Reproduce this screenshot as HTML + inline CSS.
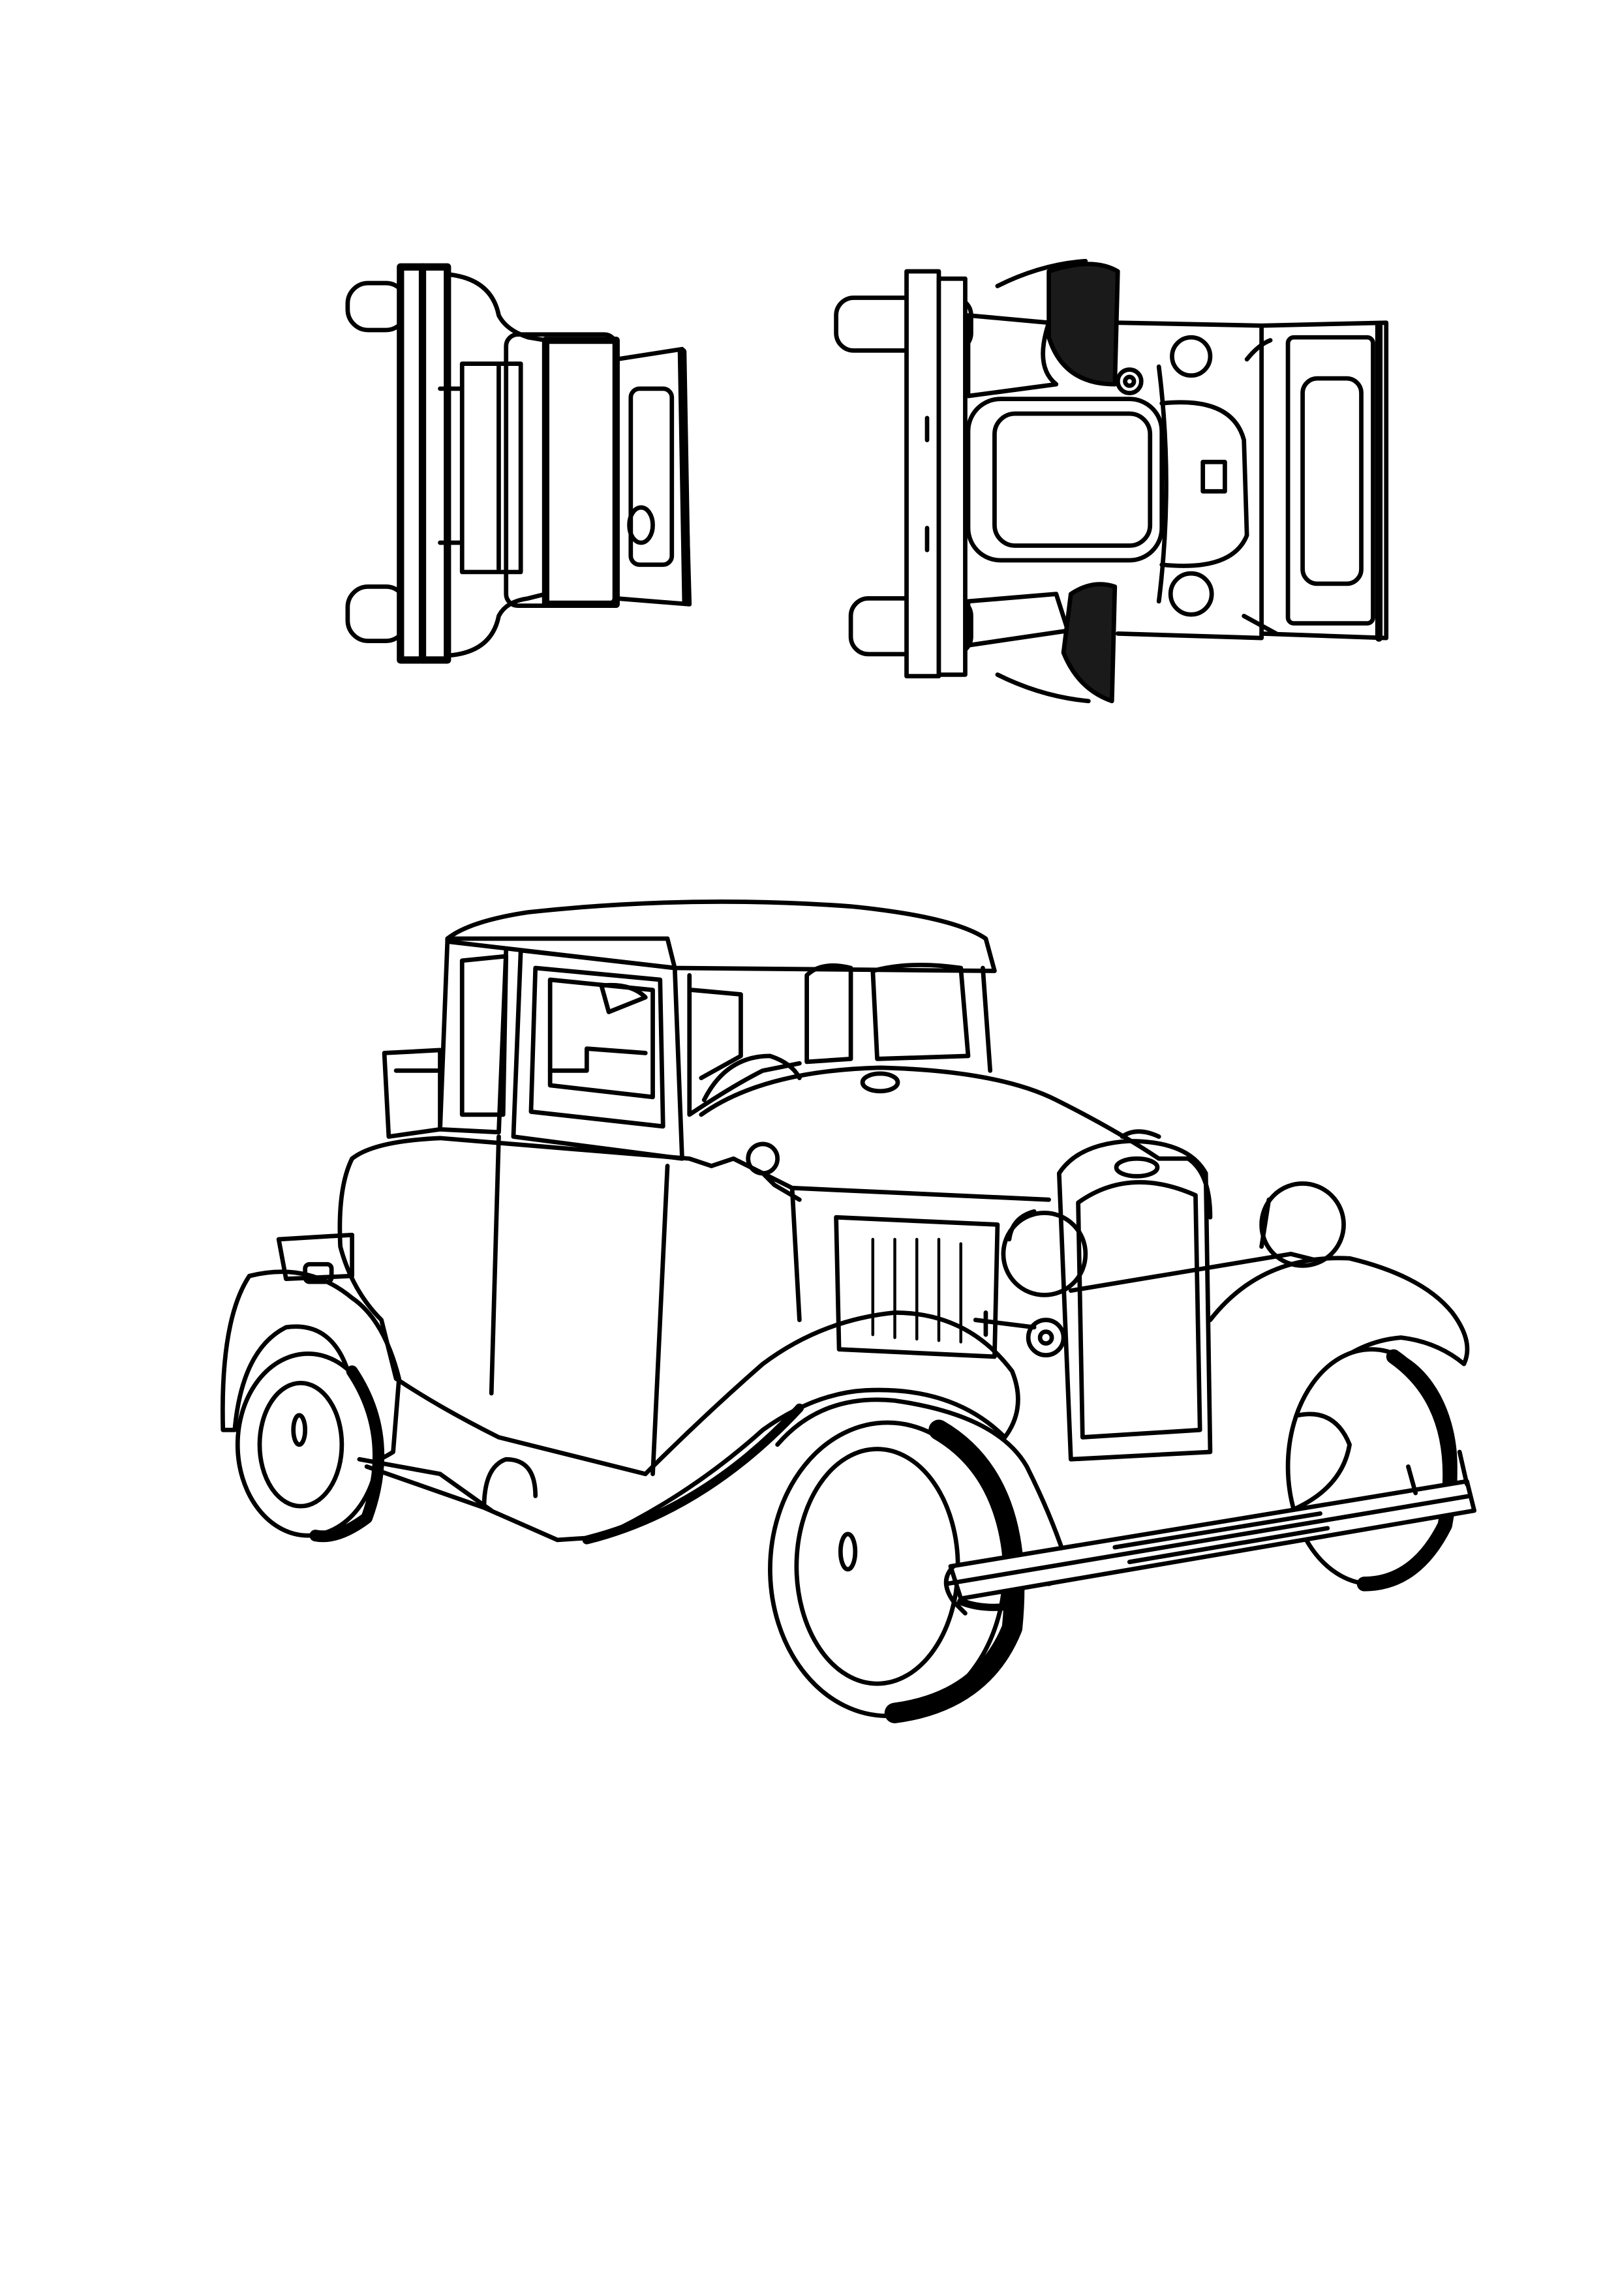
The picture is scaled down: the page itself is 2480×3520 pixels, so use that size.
<!DOCTYPE html>
<html><head><meta charset="utf-8"><style>
html,body{margin:0;padding:0;background:#fff;}
svg{display:block;}
</style></head><body>
<svg width="2480" height="3520" viewBox="0 0 1103 1565.5" xmlns="http://www.w3.org/2000/svg" fill="none" stroke="#000" stroke-width="3" stroke-linejoin="round" stroke-linecap="round">
<rect width="1103" height="1565.5" fill="#fff" stroke="none"/>
<!-- ===== Top-left view ===== -->
<rect x="237" y="193" width="40" height="32" rx="14"/>
<rect x="237" y="400" width="40" height="37" rx="14"/>
<rect x="273" y="182" width="32" height="268" fill="#fff" stroke-width="5"/>
<line x1="288" y1="182" x2="288" y2="450" stroke-width="5"/>
<path d="M305 187 Q335 190 340 215 Q345 225 360 230 L372 232"/>
<path d="M305 447 Q335 445 340 420 Q345 410 360 408 L372 405"/>
<rect x="345" y="228" width="75" height="185" rx="8"/>
<rect x="372" y="232" width="48" height="180" stroke-width="5"/>
<rect x="315" y="248" width="40" height="142"/>
<line x1="340" y1="250" x2="340" y2="388"/>
<path d="M300 265 L315 265 M300 370 L315 370"/>
<path d="M420 245 L465 238 L470 412 L420 408 Z"/>
<rect x="430" y="265" width="28" height="120" rx="6"/>
<line x1="465" y1="240" x2="468" y2="410" stroke-width="6"/>
<ellipse cx="437" cy="358" rx="8" ry="12"/>
<!-- ===== Top-right view ===== -->
<rect x="570" y="203" width="92" height="36" rx="12"/>
<rect x="580" y="408" width="82" height="38" rx="12"/>
<rect x="618" y="185" width="22" height="276" fill="#fff"/>
<rect x="640" y="190" width="18" height="270" fill="#fff"/>
<line x1="632" y1="285" x2="632" y2="300"/><line x1="632" y1="360" x2="632" y2="375"/>
<path d="M660 215 L715 220 Q705 250 720 262 L660 270 Z"/>
<path d="M660 410 L720 405 L728 430 L660 440 Z"/>
<path d="M715 185 Q745 175 762 185 L760 262 Q725 262 715 230 Z" fill="#1a1a1a"/>
<path d="M730 405 Q745 395 760 400 L758 478 Q735 470 725 445 Z" fill="#1a1a1a"/>
<path d="M680 195 Q710 180 740 178" />
<path d="M680 460 Q710 475 742 478"/>
<rect x="660" y="272" width="132" height="110" rx="22"/>
<rect x="678" y="282" width="106" height="90" rx="14"/>
<path d="M792 275 Q840 270 848 300 L850 365 Q840 390 792 385"/>
<path d="M820 315 L835 315 L835 335 L820 335 Z"/>
<circle cx="770" cy="260" r="8"/><circle cx="770" cy="260" r="3"/>
<circle cx="812" cy="243" r="13"/>
<circle cx="812" cy="405" r="14"/>
<path d="M762 220 L860 222 L860 435 L762 432"/>
<path d="M860 222 L945 220 L945 435 L860 432"/>
<rect x="878" y="230" width="58" height="195" rx="4"/>
<rect x="888" y="258" width="40" height="140" rx="10"/>
<line x1="940" y1="222" x2="940" y2="435" stroke-width="5"/>
<path d="M790 250 Q800 330 790 410"/>
<path d="M850 245 Q858 235 866 232 M848 420 L870 432"/>
<!-- ===== Main car ===== -->
<!-- roof -->
<path d="M305 640 Q320 628 360 622 Q470 610 580 618 Q650 625 672 640 L678 662 L460 660 L305 642 Z"/>
<path d="M460 660 L455 640 L305 640"/>
<!-- cabin -->
<path d="M305 642 L300 770 L340 772 L345 648"/>
<path d="M315 655 L345 652 L343 760 L315 760 Z"/>
<path d="M355 648 L460 660 L465 790 L350 775 Z"/>
<path d="M365 660 L450 668 L452 768 L362 758 Z"/>
<path d="M375 668 L445 675 L445 748 L375 740 Z"/>
<path d="M400 715 L440 718 M400 715 L400 730 L375 730"/>
<path d="M410 672 Q430 670 440 680 L415 690 Z"/>
<path d="M470 665 L470 760 Q500 740 520 730 L545 725"/>
<path d="M472 675 L505 678 L505 720 L478 735"/>
<path d="M550 665 Q560 655 580 660 L580 722 L550 724 Z"/>
<path d="M595 662 Q620 655 655 660 L660 720 L598 722 Z"/>
<path d="M670 660 L675 730"/>
<path d="M262 718 L300 716 L300 770 L265 775 Z"/>
<path d="M270 730 L298 730"/>
<!-- body -->
<path d="M478 760 Q520 730 600 728 Q680 730 720 750 Q760 770 790 790 L810 790 Q825 800 825 830"/>
<path d="M240 790 Q255 778 300 776 L470 790 L485 795"/>
<path d="M240 790 Q230 810 232 850 Q240 880 260 900 L270 940 Q300 960 340 980 L440 1005"/>
<path d="M340 775 L335 950"/>
<path d="M455 795 L445 1005"/>
<path d="M485 795 L500 790 L540 810 L715 818"/>
<path d="M540 810 L545 900"/>
<path d="M570 830 L680 835 L678 925 L572 920 Z"/>
<g stroke-width="2"><line x1="595" y1="845" x2="595" y2="910"/><line x1="610" y1="845" x2="610" y2="912"/><line x1="625" y1="845" x2="625" y2="913"/><line x1="640" y1="845" x2="640" y2="914"/><line x1="655" y1="848" x2="655" y2="915"/></g>
<circle cx="520" cy="790" r="10"/><path d="M520 800 L528 808 L545 818"/>
<ellipse cx="600" cy="738" rx="12" ry="6"/>
<path d="M480 750 Q495 720 525 720 Q540 725 545 735"/>
<!-- grille -->
<path d="M722 800 Q735 780 770 778 Q810 778 822 800 L825 990 L730 995 Z"/>
<path d="M735 820 Q770 795 815 815 L818 975 L738 980 Z"/>
<ellipse cx="775" cy="796" rx="14" ry="6"/>
<path d="M765 775 Q775 768 790 775"/>
<!-- headlights -->
<circle cx="712" cy="855" r="28"/>
<path d="M688 845 Q690 830 705 826"/>
<circle cx="888" cy="835" r="28"/>
<path d="M865 818 L860 850"/>
<path d="M730 880 L880 855 L900 860"/>
<circle cx="713" cy="912" r="12"/><circle cx="713" cy="912" r="4"/>
<path d="M665 900 L705 905 M672 895 L672 910"/>
<!-- rear fender -->
<path d="M170 870 Q150 900 152 975 L160 975 Q165 920 195 905 Q230 900 240 945 L248 1000 Q260 995 268 990 L272 940 Q262 900 240 885 Q210 860 170 870 Z"/>
<path d="M190 845 L240 842 L240 870 L195 872 Z"/>
<rect x="208" y="862" width="18" height="12" rx="3"/>
<!-- rear wheel -->
<ellipse cx="210" cy="985" rx="48" ry="62" fill="#fff"/>
<path d="M240 935 Q270 980 250 1035 Q230 1050 215 1047" stroke-width="8"/>
<ellipse cx="205" cy="985" rx="28" ry="42"/>
<ellipse cx="204" cy="975" rx="4" ry="10"/>
<!-- running board / sill -->
<path d="M250 1000 L330 1028 L380 1050 L410 1048 Q470 1020 520 975 Q555 950 590 948 Q650 945 685 980 Q700 960 690 935 Q660 895 610 895 Q560 900 520 930 Q480 965 440 1005"/>
<path d="M330 1028 Q330 1000 345 995 Q365 995 365 1020"/>
<path d="M400 1050 Q480 1030 545 960" stroke-width="6"/>
<path d="M245 995 L300 1005 L335 1030"/>
<!-- front left wheel -->
<ellipse cx="605" cy="1070" rx="80" ry="100" fill="#fff"/>
<path d="M640 975 Q700 1010 690 1110 Q670 1160 610 1168" stroke-width="14"/>
<ellipse cx="598" cy="1068" rx="55" ry="80"/>
<ellipse cx="578" cy="1058" rx="5" ry="12"/>
<!-- front left fender -->
<path d="M530 985 Q560 950 610 955 Q680 965 700 1000 Q720 1040 730 1075 L715 1080"/>
<!-- right fender & wheel -->
<path d="M825 900 Q860 855 920 858 Q970 870 990 895 Q1005 915 998 930 Q980 915 955 912 Q920 915 895 945"/>
<ellipse cx="935" cy="1000" rx="57" ry="80" fill="#fff"/>
<path d="M950 925 Q1000 960 985 1040 Q965 1080 930 1080" stroke-width="10"/>
<path d="M885 965 Q910 960 920 985 Q915 1015 880 1030"/>
<!-- bumper -->
<path d="M648 1068 L1000 1010 L1005 1030 L655 1090 Z" fill="#fff"/>
<path d="M645 1080 L1002 1020"/>
<path d="M650 1068 Q640 1078 650 1092 L658 1100"/>
<path d="M760 1055 L900 1032 M770 1065 L905 1042"/>
<path d="M995 990 L1000 1012 M960 1000 L965 1018"/>
<path d="M655 1092 Q670 1098 690 1095" stroke-width="5"/>
</svg>
</body></html>
